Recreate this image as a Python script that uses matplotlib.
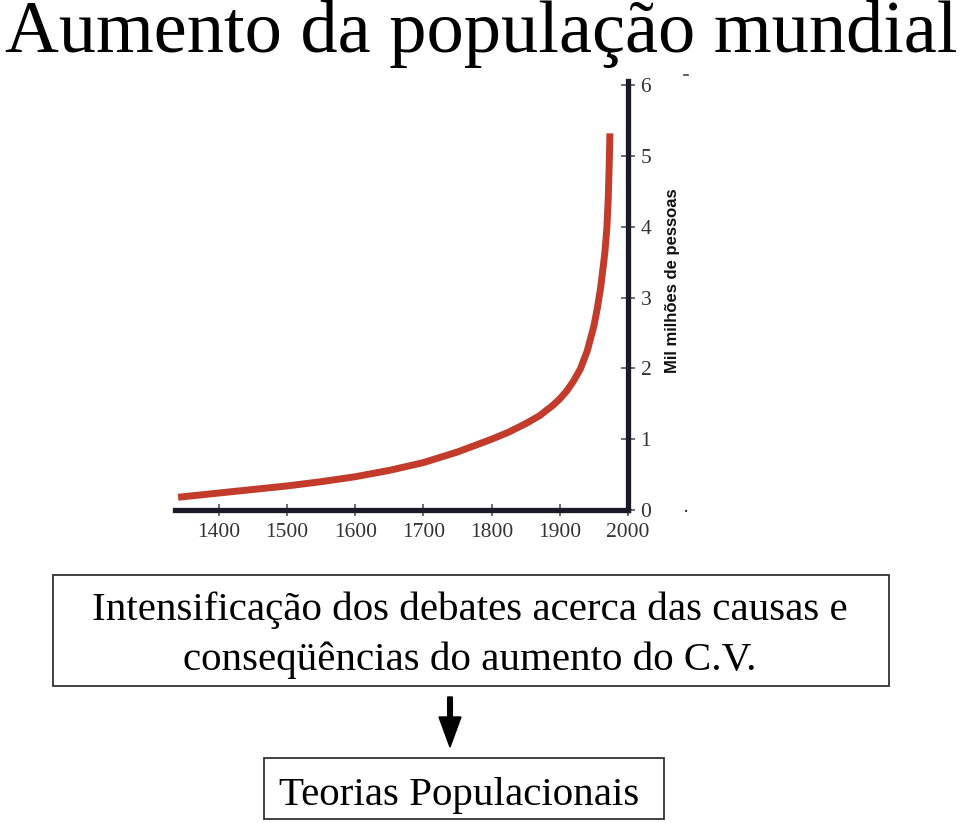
import matplotlib
matplotlib.use("Agg")
import matplotlib.pyplot as plt
from matplotlib.patches import Rectangle, FancyArrow
from matplotlib.lines import Line2D

# population curve (year, thousand millions)
years = [1340, 1400, 1450, 1500, 1550, 1600, 1650, 1700, 1750, 1800, 1825, 1850,
         1870, 1890, 1900, 1910, 1920, 1930, 1940, 1950, 1955, 1960, 1966,
         1969, 1971, 1972.5, 1973.5]
pop = [0.18, 0.24, 0.29, 0.34, 0.40, 0.47, 0.56, 0.67, 0.82, 1.00, 1.10, 1.22,
       1.33, 1.48, 1.57, 1.68, 1.82, 1.99, 2.24, 2.60, 2.85, 3.15, 3.63,
       3.98, 4.40, 4.90, 5.32]
xticks = [1400, 1500, 1600, 1700, 1800, 1900, 2000]
yticks = [0, 1, 2, 3, 4, 5, 6]

title = "Aumento da população mundial"
ylabel = "Mil milhões de pessoas"
box1_lines = ["Intensificação dos debates acerca das causas e",
              "conseqüências do aumento do C.V."]
box2_text = "Teorias Populacionais"

W, H = 960, 823
fig = plt.figure(figsize=(W / 100, H / 100), dpi=100)


def fx(px):
    return px / W


def fy(py):
    return 1 - py / H


serif = "Liberation Serif"
axis_col = "#1a1a2c"

# chart area, placed in pixels
left, right, top, bottom = 175, 628, 81, 510
x0 = 1400 - (219 - left) / 0.6817
ax = fig.add_axes([fx(left), fy(bottom), fx(right - left), (bottom - top) / H])
ax.plot(years, pop, color="#c23b2b", lw=5, solid_capstyle="butt",
        solid_joinstyle="round")
ax.set_xlim(x0, 2000)
ax.set_ylim(0, (bottom - top) / 70.8)
ax.set_xticks(xticks)
ax.set_yticks(yticks)
ax.set_xticklabels([str(t) for t in xticks], family=serif, fontsize=15.5, color="#333333")
ax.set_yticklabels([str(t) for t in yticks], family=serif, fontsize=15.5, color="#333333")
ax.yaxis.tick_right()
ax.spines["left"].set_visible(False)
ax.spines["top"].set_visible(False)
for s in ["bottom", "right"]:
    ax.spines[s].set_linewidth(3.8)
    ax.spines[s].set_color(axis_col)
ax.tick_params(axis="x", direction="inout", length=9, width=1.2, color="#555555", pad=5)
ax.tick_params(axis="y", direction="inout", length=10, width=1.2, color="#555555", pad=4)
ax.patch.set_alpha(0)

fig.text(fx(672), fy(281), ylabel, rotation=90, ha="center", va="center",
         family="Liberation Sans", weight="bold", fontsize=12, color="#111111")
# small specks beside the chart
fig.lines.append(Line2D([fx(684), fx(688)], [fy(75), fy(75)], color="#444444",
                        lw=1.2, transform=fig.transFigure))
fig.text(fx(686), fy(507), ".", ha="center", va="center", fontsize=14, color="#333333")

# title
fig.text(fx(5), fy(52), title, ha="left", va="baseline", family=serif,
         fontsize=53.6, color="black")

# first box
fig.patches.append(Rectangle((fx(53), fy(686)), fx(889 - 53), (686 - 575) / H,
                             transform=fig.transFigure, fill=False,
                             edgecolor="#333333", lw=1.3))
fig.text(fx(470), fy(620), box1_lines[0], ha="center", va="baseline", family=serif,
         fontsize=29.5, color="black")
fig.text(fx(470), fy(670), box1_lines[1], ha="center", va="baseline", family=serif,
         fontsize=29.5, color="black")

# arrow
fig.patches.append(FancyArrow(fx(450), fy(697), 0, -(747 - 697) / H,
                              width=4 / H, head_width=22 / W, head_length=30 / H,
                              length_includes_head=True, color="black",
                              transform=fig.transFigure))

# second box
fig.patches.append(Rectangle((fx(264), fy(819)), fx(664 - 264), (819 - 758) / H,
                             transform=fig.transFigure, fill=False,
                             edgecolor="#333333", lw=1.3))
fig.text(fx(459), fy(805), box2_text, ha="center", va="baseline", family=serif,
         fontsize=29.5, color="black")

fig.savefig("out.png", dpi=100, facecolor="white")
